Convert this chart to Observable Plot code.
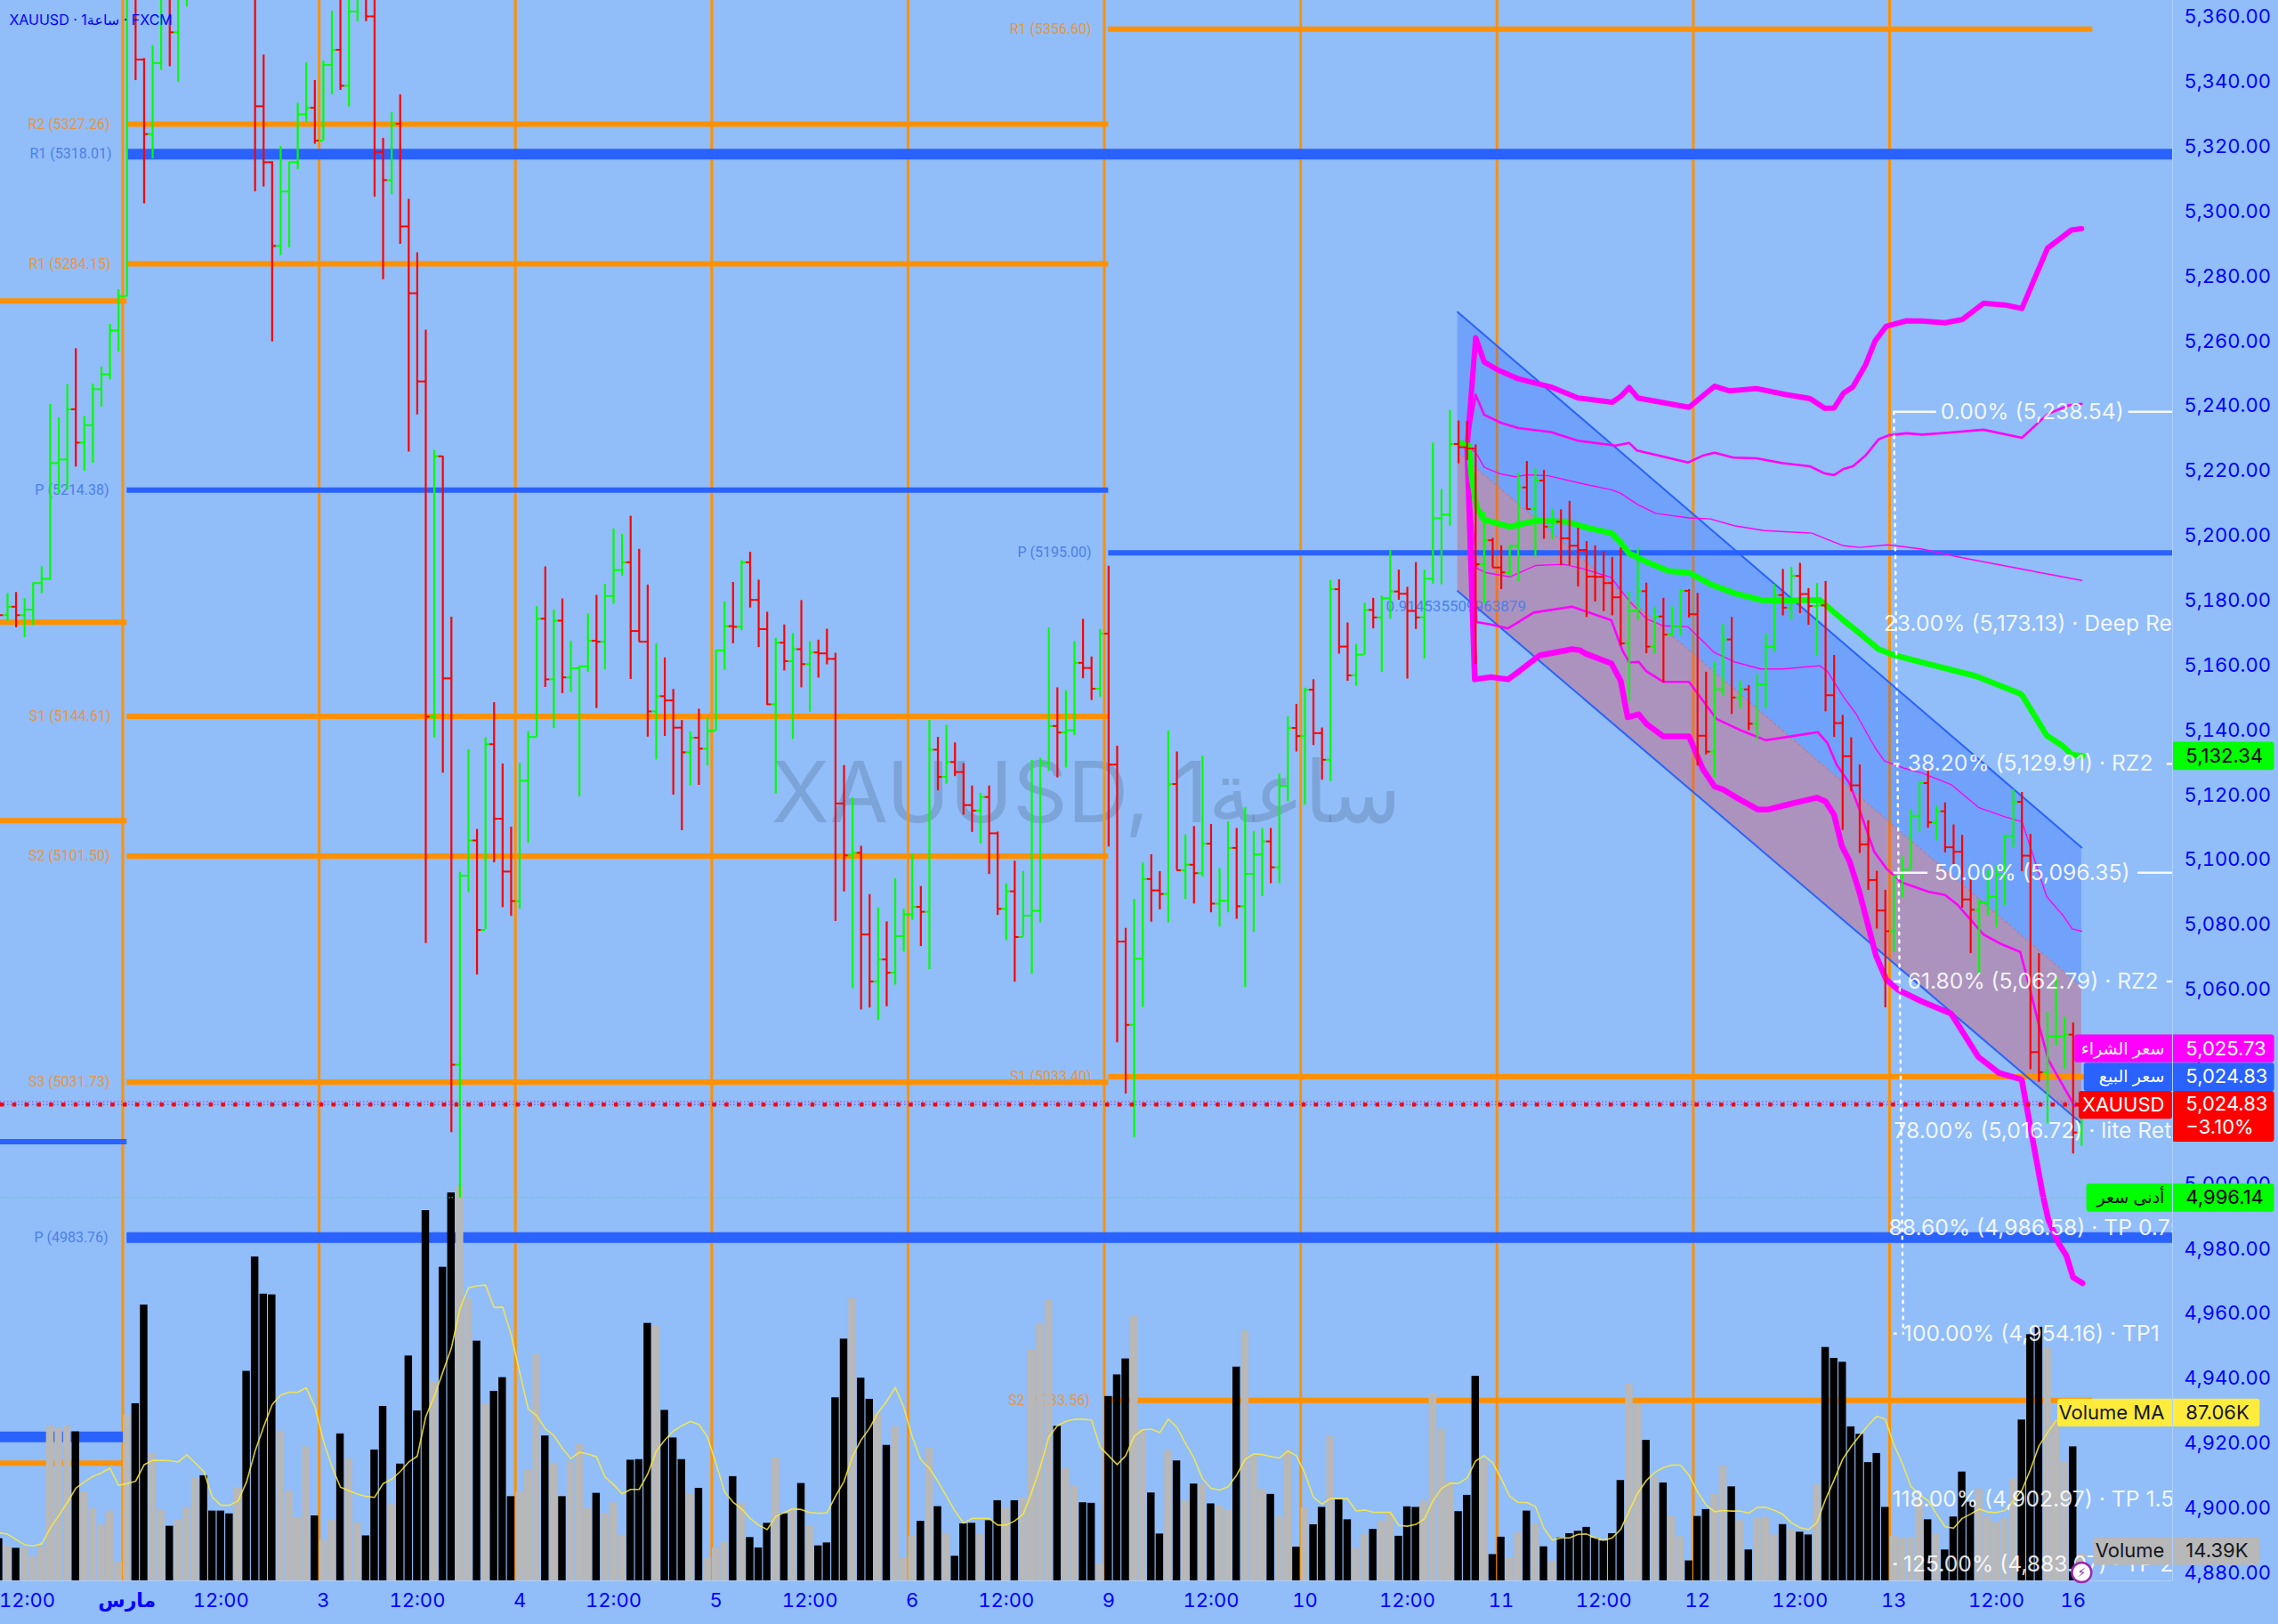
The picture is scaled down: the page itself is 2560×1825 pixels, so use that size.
<!DOCTYPE html>
<html lang="ar"><head><meta charset="utf-8">
<script src="https://cdn.jsdelivr.net/npm/d3@7"></script>
<script src="https://cdn.jsdelivr.net/npm/@observablehq/plot@0.6"></script>
<style>html,body{margin:0;padding:0;background:#91bdf9;overflow:hidden}svg{display:block}</style>
</head><body><div id="chart"></div>
<script>
const opens=[5178,5175.8,5178.4,5175.8,5177.5,5185.7,5187,5222.7,5223.8,5239.3,
5229,5234.4,5245.5,5250.1,5263.6,5274.2,5372,5347.2,5324.2,5346.1,
5368,5355.6,5375,5390,5405,5395,5385,5380,5375,5388,
5375,5332.8,5315.5,5289.7,5306.5,5315.5,5330.3,5332.3,5322.2,5345.5,
5350.2,5339.1,5362,5372,5360.5,5318.7,5310,5327.4,5295.7,5275.1,
5247.9,5144.5,5224.8,5156.3,5037.1,5095.4,5106.3,5078.7,5136,5113,
5096.7,5087.6,5124.7,5138.2,5174.7,5156,5174.1,5156.6,5159.4,5160,
5167.9,5167.6,5181.7,5189.7,5192.1,5170.9,5167.6,5146.1,5150.8,5149.5,
5141.1,5133.5,5138,5134.6,5140.1,5164.9,5172.4,5172.2,5192.1,5180.5,
5171.5,5148.3,5167.3,5161.6,5165.3,5160.7,5164.3,5164,5162.3,5117.7,
5101.7,5102.5,5077.3,5062.8,5069.6,5065.5,5076.8,5083.5,5085.8,5084.3,
5134.3,5125.9,5130.5,5127.4,5117.2,5115.5,5119.7,5108.5,5085.2,5090.6,
5076.5,5083.1,5084.6,5130.1,5141.6,5139.6,5140.3,5161.1,5159.5,5153.1,
5170.1,5129.7,5075.1,5049.4,5069.8,5094.4,5090.9,5089.8,5123.7,5097.1,
5098.8,5096.2,5105.3,5086.8,5087.7,5104,5086,5096,5102,5106,
5098,5123.1,5141,5138.5,5152.8,5139.4,5131.2,5183.8,5166.1,5157.2,
5163.6,5177.4,5175.1,5181,5183.1,5182.4,5177.1,5175.1,5187,5205.7,
5206.8,5228.6,5227.6,5227.2,5191.5,5198.9,5190.5,5189,5197.2,5215.2,
5208.5,5217.3,5203.1,5204.6,5199.5,5197.2,5195.9,5187.7,5187.6,5185.7,
5181.3,5167.1,5177.1,5183.2,5166.1,5175.4,5169.8,5172.4,5183.3,5176.1,
5138.6,5133.7,5152.9,5168.3,5150.4,5152.9,5142.3,5154.4,5166.1,5182,
5178.1,5187.9,5182.3,5178.6,5178.8,5151.1,5142.5,5132.3,5123.3,5105.1,
5094.1,5084.7,5078.3,5095,5097.3,5113.9,5124,5111.9,5115.3,5104.2,
5102.8,5088.1,5084.9,5087.1,5089,5096,5107.7,5118.2,5101.6,5041,
5034.8,5045.9,5045.9,5046.4,5016.2];
const highs=[5183,5182.5,5182.8,5180.9,5185.7,5190.7,5240.8,5236.7,5246.9,5258,
5237.1,5247.1,5252.3,5265.5,5276.2,5385,5390,5347.5,5351.5,5375,
5372,5385,5395,5410,5412,5400,5392,5385,5392,5395,
5385,5348.6,5315.7,5320.4,5315.5,5333.7,5346.1,5340.7,5346.7,5362.1,
5370,5375,5378,5380,5372,5322.9,5330.9,5336.3,5304.1,5287.6,
5263.7,5226.5,5224.8,5175.2,5096.5,5134.3,5109.7,5138,5148.8,5129.9,
5110.4,5130.1,5139.9,5178.4,5190.7,5177.4,5180.8,5167.8,5160,5176.2,
5181.9,5185.3,5202.4,5200.7,5206.3,5196.1,5185.1,5167,5162.6,5152.9,
5143.3,5139.8,5146.8,5144.1,5164.9,5179.9,5185.9,5192.6,5195.2,5186.6,
5176.7,5168.6,5172.8,5170.1,5180.3,5167.6,5168.1,5171.5,5164.1,5129.4,
5119.5,5104.5,5089.6,5085.5,5081.2,5094.5,5085.1,5101.9,5092.1,5143.3,
5138.1,5141.8,5136.4,5130,5123.1,5120.8,5123.1,5108.9,5092.9,5099.9,
5096.7,5131,5131.7,5171.9,5153.4,5152.5,5167.7,5174.5,5162.9,5171.4,
5190.9,5135.4,5079.2,5088.1,5099.3,5101.9,5096.7,5140.1,5133.6,5108,
5110.6,5132.3,5111.2,5097.6,5112.1,5110,5116.5,5109,5110,5110,
5126.8,5144.4,5148.3,5153.3,5155.9,5141,5186.5,5186.7,5173.4,5166.8,
5179.5,5181,5181.7,5195.7,5189.7,5184.4,5192,5189.7,5228.9,5214.6,
5238.9,5235.7,5235.6,5228.3,5207.5,5199.5,5197.2,5197.2,5219.6,5223.2,
5220.9,5220.5,5208.5,5208.3,5210.9,5202.6,5198.5,5197.2,5195.4,5193.6,
5196.5,5183,5196.4,5185.7,5178.3,5181,5178.4,5183.7,5183.7,5182.5,
5158.2,5161.4,5172.9,5175.1,5155.5,5154.1,5157.5,5170,5185.2,5189.9,
5190.5,5191.8,5184,5185.6,5186.2,5163.4,5144.9,5138,5129.6,5112.4,
5096.8,5090.9,5095.5,5101.2,5115.6,5124,5128.4,5116.7,5117.9,5111.1,
5107.9,5094.2,5088.1,5097.2,5098.4,5107.9,5121.9,5121.1,5108.2,5071.4,
5053.3,5064.1,5051.8,5050,5025];
const lows=[5172,5173.9,5171.9,5168.9,5172.7,5182.5,5186.6,5213.2,5214.5,5221.5,
5220.2,5222.7,5240,5248.4,5257,5274,5340.7,5302.7,5316.6,5343.9,
5345,5340.2,5363.4,5385,5390,5380,5376,5372,5372,5370,
5306.4,5307.9,5260.1,5286.7,5289.1,5313.3,5327.7,5321.1,5322.2,5336.4,
5337.7,5332.6,5358.9,5358.9,5304.8,5279.3,5305.5,5290.2,5226.1,5237.6,
5074.5,5138,5127.1,5016.2,4996.1,5090.2,5064.8,5078.9,5099.4,5085.6,
5082.9,5085.1,5105.5,5138.2,5153.5,5140.8,5151.6,5152,5119.8,5158.2,
5147,5159,5179.2,5187.8,5156,5167.6,5138.2,5131.2,5138.4,5120.3,
5109.3,5123.2,5123.3,5129.3,5140.1,5158.8,5167,5171,5178,5165.8,
5148,5120.7,5158.6,5137.5,5153.4,5145.9,5156.4,5160.5,5081.3,5090.4,
5060.6,5054,5054.6,5050.8,5055,5061.7,5071.9,5081.7,5073.6,5066.5,
5121.6,5123.7,5126,5114.1,5108.8,5105.3,5095.8,5083.2,5075.4,5062.6,
5076.5,5065,5080.9,5127.6,5125.6,5128.7,5138.7,5156.2,5149.5,5150.5,
5104.3,5043.9,5028.1,5014.7,5054.8,5081.1,5084.9,5080.9,5097.1,5088.1,
5086.7,5095,5084,5079.6,5084,5082,5061,5078,5089,5093,
5093,5118.3,5133.6,5117.2,5135.6,5124.9,5124.5,5163.8,5155.4,5153.9,
5163.5,5171.6,5158.2,5174.6,5180.4,5156.1,5171.4,5162.3,5185.4,5185.2,
5203.3,5222.5,5223.5,5160.6,5179.3,5190.5,5183.7,5187.6,5186.2,5208.3,
5193.8,5199.2,5199.2,5191.1,5191.1,5184.5,5175.1,5179.9,5176.9,5175.6,
5166.3,5149.2,5174.2,5163.9,5163.7,5154.9,5169.3,5169.3,5174.9,5129.3,
5132.7,5125.8,5150.9,5145.2,5146.9,5140.2,5137.1,5146.9,5164.4,5175.6,
5174.2,5176.3,5172.7,5163.4,5146,5138.1,5109.4,5121.3,5102.3,5090.9,
5079,5054.7,5071.9,5088.6,5097.3,5108.7,5110.1,5106.2,5102.5,5098.8,
5085.4,5071.4,5065,5083.2,5079.5,5086.1,5104,5096.7,5035.6,5031.7,
5018.9,5042.9,5035.8,5009.6,5012];
const closes=[5175.8,5178.4,5175.8,5177.5,5185.7,5187,5222.7,5223.8,5239.3,5229,
5234.4,5245.5,5250.1,5263.6,5274.2,5372,5347.2,5324.2,5346.1,5368,
5355.6,5375,5390,5405,5395,5385,5380,5375,5388,5375,
5332.8,5315.5,5289.7,5306.5,5315.5,5330.3,5332.3,5322.2,5345.5,5350.2,
5339.1,5362,5372,5360.5,5318.7,5310,5327.4,5295.7,5275.1,5247.9,
5144.5,5224.8,5156.3,5037.1,5095.4,5106.3,5078.7,5136,5113,5096.7,
5087.6,5124.7,5138.2,5174.7,5156,5174.1,5156.6,5159.4,5160,5167.9,
5167.6,5181.7,5189.7,5192.1,5170.9,5167.6,5146.1,5150.8,5149.5,5141.1,
5133.5,5138,5134.6,5140.1,5164.9,5172.4,5172.2,5192.1,5180.5,5171.5,
5148.3,5167.3,5161.6,5165.3,5160.7,5164.3,5164,5162.3,5117.7,5101.7,
5102.5,5077.3,5062.8,5069.6,5065.5,5076.8,5083.5,5085.8,5084.3,5134.3,
5125.9,5130.5,5127.4,5117.2,5115.5,5119.7,5108.5,5085.2,5090.6,5076.5,
5083.1,5084.6,5130.1,5141.6,5139.6,5140.3,5161.1,5159.5,5153.1,5170.1,
5129.7,5075.1,5049.4,5069.8,5094.4,5090.9,5089.8,5123.7,5097.1,5098.8,
5096.2,5105.3,5086.8,5087.7,5104,5086,5096,5102,5106,5098,
5123.1,5141,5138.5,5152.8,5139.4,5131.2,5183.8,5166.1,5157.2,5163.6,
5177.4,5175.1,5181,5183.1,5182.4,5177.1,5175.1,5187,5205.7,5206.8,
5228.6,5227.6,5227.2,5191.5,5198.9,5190.5,5189,5197.2,5215.2,5208.5,
5217.3,5203.1,5204.6,5199.5,5197.2,5195.9,5187.7,5187.6,5185.7,5181.3,
5167.1,5177.1,5183.2,5166.1,5175.4,5169.8,5172.4,5183.3,5176.1,5138.6,
5133.7,5152.9,5168.3,5150.4,5152.9,5142.3,5154.4,5166.1,5182,5178.1,
5187.9,5182.3,5178.6,5178.8,5151.1,5142.5,5132.3,5123.3,5105.1,5094.1,
5084.7,5078.3,5095,5097.3,5113.9,5124,5111.9,5115.3,5104.2,5102.8,
5088.1,5084.9,5087.1,5089,5096,5107.7,5118.2,5101.6,5041,5034.8,
5045.9,5045.9,5046.4,5016.2,5024.83];
const volumes=[22.8,19.1,17.6,18.2,13.2,18.6,83.5,82.2,83.7,80.5,
47.9,39,30.2,37.7,10.2,89.6,95.7,149,69,38,
29.5,33,39.7,55.3,56.8,37.7,37.7,36.2,50.3,113.2,
175,154.9,154.5,80.9,48.6,34.3,72.4,35.1,21.9,32.7,
79.4,65.9,31.4,24.3,70.7,94.2,41.2,63.1,121.5,91.8,
200,107.6,169.4,209.6,213,152.3,129.5,95.7,102.4,109.8,
45.5,47.9,59.6,122.4,78.3,63.6,45.5,64.6,73.8,39,
47.3,36.3,42.2,24.7,65.2,65.5,139.1,137.5,92.1,77.2,
65.5,47,50,12.5,17.9,20.7,56.3,42,23.4,17.8,
31.1,66.5,36.2,38.5,52.6,29.8,18.9,20.5,98.9,130.6,
152.6,109.5,98.1,90.5,73.2,83.3,12.5,24,32.2,71.8,
40.1,25.6,13.3,30.8,31.1,25,32.5,43.3,39.3,43.3,
44.9,124.8,139.1,151.8,83.5,60.6,51,42.2,41.9,9.4,
99.6,111.3,119.9,142.7,82,47.5,25.3,70.3,64.8,43.1,
52.3,52.3,41.6,40.4,38.5,115.5,135,67.6,49.6,46.7,
34.7,70.3,18.2,39.5,30.3,39.7,78.2,43.7,33,17.4,
24.9,27.8,32.4,36.6,24.1,40,39.7,43.1,101.1,82,
53.3,37.4,46.2,110.5,65.3,14.2,23.6,12.5,25.9,37.7,
30.7,18.4,10.7,23.2,25.5,26.8,28.9,23,21.5,25.5,
54.2,106.3,95.4,75.9,56.1,52.9,34.9,23.9,10.8,34.8,
38.5,47,62.2,50.8,32.5,16.7,33.7,34.3,24.8,30.4,
28,26.3,24.8,51.8,126.1,120.2,118.1,83.2,79.2,63.9,
68.8,39.7,24,22.9,23.6,43.6,33,25.5,16.7,34.5,
58.8,42.5,49.7,34.5,31.6,33.5,55.1,86.9,133,136.9,
126.1,85.7,64.1,72.4,14.39];
const volumeMA=[26,25.2,22.3,19.5,18.9,20,28.4,35.3,42.3,50.1,
53.4,56.4,58.3,60.9,51.6,52.5,53.8,62.7,65.1,65.1,
64.9,64.2,68.1,63.6,59,45.1,40.8,40.8,43.2,53.4,
70.1,83.2,95.2,100.4,101.9,101.9,104.3,94.2,75.7,61.7,
50.6,48.7,46.9,45.6,45.1,52.5,54.9,59,64.2,67.3,
88.7,99.8,112.8,125.8,147.1,158.3,159.4,159.8,147.7,147.9,
133,112.6,92.9,89.2,82.2,78.5,71.6,66,69.5,68.5,
67,56.1,52,47,49.4,49.4,57.7,70,76.1,80.9,
83.8,86.2,84.5,77.7,63.3,48.1,42.5,38.9,33.7,30.1,
27.7,34.8,36.9,38.9,38.5,36.9,36.5,36.7,45.7,53.7,
67.3,76.1,82.5,91,97,104.5,93.8,77.7,65.4,60.9,
53.7,45.7,37.7,31.2,33.7,33.7,33.7,30.1,30.1,32.4,
36,48.1,61.7,77.7,83.8,86.2,87.3,87.3,86.9,72.3,
67.6,62.8,67.6,78.2,81.6,82,80.1,87.4,83,74.3,
66.3,55.2,50,49,50.8,57.1,65.7,68.6,68.2,67.2,
66.3,70.1,67.6,58,45.2,41.4,44.6,44.6,44.3,37.7,
38.3,37,37,37,29.9,29.5,30.5,33.5,43.3,49.8,
52.7,52.7,55.6,64.8,67.6,63.8,55.2,45.6,42.3,42.3,
40.2,28.4,22,23.2,23.2,25.1,25.3,23.2,22,23.2,
27.8,37.9,47.5,54.2,58.6,61.2,62.6,62.5,57,48.1,
40.9,37.3,38,37.7,37.7,36.5,39.7,39.7,38.1,35.9,
31.3,28.7,27.6,31.6,44.1,54.5,65.7,72.6,78.5,84.1,
88.9,87.3,73.7,63.3,51,46.5,43.3,36.1,29.2,28.5,
33.7,36.1,38.8,37.2,36.9,38,43.3,48.9,60.1,72.9,
80.1,86.5,87,87,87.06];

const bandOuterUp=[[172,5227.6],[173,5261.4],[174,5253.9],[175.5,5251.6],[178,5248.7],[181.8,5246.2],[185,5242.8],[189,5241.5],[190,5243.3],[191,5246],[192,5242.8],[198,5239.9],[200,5244.3],[201,5246.4],[202.7,5245],[205.9,5245.7],[209.4,5243.8],[212.2,5242.6],[213.9,5239.6],[215,5239.7],[216.1,5244.3],[217.2,5246.2],[218.7,5253.1],[219.8,5260.4],[221.1,5264.9],[223.5,5266.6],[225.3,5266.5],[228,5266],[230,5267],[232.5,5272],[235,5271.5],[237,5270.4],[240,5289],[242.8,5294.6],[244,5295]];
const bandMidUp=[[172,5227.6],[173,5243.8],[174,5237.6],[176,5235.1],[178,5233.5],[181.8,5232.3],[185,5229.6],[189.4,5228.1],[191,5228.9],[191.9,5226.6],[197.9,5222.9],[199.7,5225.1],[201,5225.9],[203.2,5224.4],[205.9,5224.2],[209,5222.7],[212.2,5221.7],[213.9,5219.5],[215,5219],[216.1,5220.9],[217.2,5221.7],[218.7,5225.1],[220.2,5230],[221.4,5231.3],[223.5,5231.9],[225.3,5231.5],[228,5232],[232.5,5233],[237,5230.5],[240,5237.8],[242.5,5240.5],[244,5241]];
const bandInnerUp=[[172,5227.6],[173,5226.1],[174,5221.4],[176,5219.3],[177.7,5218.5],[179,5219.1],[181.5,5218.8],[185.6,5216.3],[189,5214.4],[190,5213.4],[192,5209.9],[194.1,5207.2],[198,5205.8],[200.5,5205.5],[203.3,5203.4],[206.8,5201.9],[212.4,5201.1],[214.2,5199.2],[216.1,5197.2],[218,5196.7],[221.3,5197.5],[225.3,5196.2],[230,5193.5],[237,5190],[240,5188.5],[244,5186.5]];
const vwapLine=[[171.2,5228.9],[172.2,5228.1],[172.5,5218.8],[173.1,5209],[174,5205.2],[177,5203.1],[180,5204.9],[183.7,5204.6],[186.3,5202.6],[188.9,5201.1],[190,5198.2],[191,5194.8],[193,5192.3],[195.6,5189.4],[198,5188.9],[200.8,5185],[203.4,5182.5],[206.4,5180.5],[209.2,5180.3],[213.3,5180.5],[216.1,5174.2],[218,5170.2],[220.2,5165.3],[222.1,5163.4],[225.3,5161.2],[231.6,5157],[236.8,5151.6],[237.1,5150.8],[239.9,5138.7],[241.7,5135.6],[242.9,5132.7],[244.1,5132.34]];
const bandInnerDn=[[172,5227.6],[173.1,5190.3],[174.2,5188.9],[177,5187.6],[180,5191.1],[183.3,5191.5],[185.6,5190.1],[188.9,5187.4],[190,5183.5],[191.2,5179.6],[193,5174.7],[195,5172.5],[197.9,5172.2],[199.4,5168.3],[200.9,5164.4],[203.3,5161.4],[206.4,5159.2],[209,5159.2],[213.3,5160.2],[214.2,5158.5],[216.1,5150.6],[217.6,5145.2],[219.8,5134.9],[220.9,5130.8],[223.2,5128.6],[225.3,5127.1],[228.8,5123.4],[231.9,5116.5],[235,5113.6],[237,5112.1],[238,5104.2],[239.9,5089],[241.8,5083.2],[242.9,5079],[244,5078.3]];
const bandMidDn=[[172,5227.6],[173.1,5173.7],[174.8,5172.9],[176.8,5171.7],[179.8,5176.6],[184.3,5178.4],[188.9,5174.2],[190.2,5164.9],[191,5161.2],[192.1,5161.4],[193,5158.5],[195,5155.2],[198,5155.2],[199.7,5149.2],[201.2,5143.8],[204.2,5140.1],[207,5137.2],[213.1,5139.7],[214.2,5136.4],[215.3,5129.6],[216.8,5123.9],[218,5115.6],[219.7,5102.8],[221.2,5097.4],[222.9,5093.4],[226,5090.5],[228,5089.5],[229.4,5086.6],[232.5,5077.3],[234.6,5074.3],[236.8,5071.9],[237.7,5063.1],[238.9,5050.3],[240.1,5038.6],[241.7,5031.2],[243.2,5024.3]];
const bandOuterDn=[[172,5228.6],[172.9,5156],[174.8,5156.7],[176.8,5156],[178.1,5158.5],[180.5,5163.4],[184.3,5165.3],[185.2,5165],[185.9,5163.9],[188.9,5160.9],[190,5155.5],[190.8,5144.3],[192.1,5145.2],[193,5142.3],[195,5138.4],[198,5138.4],[199.6,5128.4],[201,5122.9],[202,5122],[203.7,5119.3],[206.1,5115.8],[207.2,5115.8],[209.6,5117.4],[213,5119.5],[214,5118.3],[215,5114.2],[215.9,5104.6],[216.8,5100],[218,5090],[219,5079.9],[219.9,5070.8],[221.1,5063.4],[222.5,5060.2],[225.3,5056.6],[228.7,5052.9],[231.9,5039.5],[234.3,5034.6],[236.8,5032.7],[237,5032.2],[239.4,4997.6],[240.1,4989.3],[241.3,4982],[242.2,4978.3],[243,4971.5],[244.1,4969.7]];

const channelBars=[170.9,244];
const channelTop=[5269.3,5104.1];
const channelMid=[5226.1,5061.1];
const channelBottom=[5183.2,5019];

const dayLineBars=[14.5,37.5,60.5,83.5,106.5,129.5,152.5,175.5,198.5,221.5];
const tickBars=[3.3,26,38,49,61,72,84,95,107,118,130,142,153,165,176,188,199,211,222,234,243];
const tickLabels=["12:00","12:00","3","12:00","4","12:00","5","12:00","6","12:00","9","12:00","10","12:00","11","12:00","12","12:00","13","12:00","16"];
const priceTicks=d3.range(4880,5361,20);

const pivotSegments=[
 {p:5272.7,a:0,b:15,c:"o",w:6},{p:5173.6,a:0,b:15,c:"o",w:6},{p:5112.4,a:0,b:15,c:"o",w:6},{p:4914.2,a:0,b:15,c:"o",w:6},
 {p:5013.4,a:0,b:15,c:"b",w:6},{p:4922.3,a:0,b:15,c:"b",w:12},
 {p:5327.26,a:15,b:130,c:"o",w:6},{p:5284.15,a:15,b:130,c:"o",w:6},{p:5144.61,a:15,b:130,c:"o",w:6},{p:5101.5,a:15,b:130,c:"o",w:6},{p:5031.73,a:15,b:130,c:"o",w:6},
 {p:5214.38,a:15,b:130,c:"b",w:6},{p:5318.01,a:15,b:255,c:"b",w:12},{p:4983.76,a:15,b:255,c:"b",w:12},
 {p:5356.6,a:130,b:245.3,c:"o",w:6},{p:5033.4,a:130,b:245,c:"o",w:6},{p:4933.56,a:130,b:245.3,c:"o",w:6},{p:5195,a:130,b:255,c:"b",w:6}];
const pivotLabels=[
 {t:"R2 (5327.26)",p:5327.26,x:13,c:"o"},{t:"R1 (5318.01)",p:5318.01,x:13.2,c:"b"},{t:"R1 (5284.15)",p:5284.15,x:13.1,c:"o"},
 {t:"P (5214.38)",p:5214.38,x:12.9,c:"b"},{t:"S1 (5144.61)",p:5144.61,x:13.1,c:"o"},{t:"S2 (5101.50)",p:5101.5,x:13,c:"o"},
 {t:"S3 (5031.73)",p:5031.73,x:13,c:"o"},{t:"P (4983.76)",p:4983.76,x:12.8,c:"b"},
 {t:"R1 (5356.60)",p:5356.6,x:128,c:"o"},{t:"P (5195.00)",p:5195,x:128,c:"b"},{t:"S1 (5033.40)",p:5033.4,x:128,c:"o"},{t:"S2 (4933.56)",p:4933.56,x:127.8,c:"o"}];
const fibLabels=[
 {t:"0.00% (5,238.54)",p:5238.54,x:238.2,a:"middle"},
 {t:"23.00% (5,173.13) · Deep Retracement",p:5173.13,x:220.8,a:"start"},
 {t:"38.20% (5,129.91) · RZ2",p:5129.91,x:223.6,a:"start"},
 {t:"50.00% (5,096.35)",p:5096.35,x:238.2,a:"middle"},
 {t:"61.80% (5,062.79) · RZ2",p:5062.79,x:223.6,a:"start"},
 {t:"78.00% (5,016.72) · lite Retracement",p:5016.72,x:222,a:"start"},
 {t:"88.60% (4,986.58) · TP 0.75",p:4986.58,x:221.4,a:"start"},
 {t:"100.00% (4,954.16) · TP1",p:4954.16,x:223.1,a:"start"},
 {t:"118.00% (4,902.97) · TP 1.5",p:4902.97,x:221.8,a:"start"},
 {t:"125.00% (4,883.07) · TP 2",p:4883.07,x:223.1,a:"start"}];
const fibTicks=[
 {p:5238.54,a:222,b:227},{p:5238.54,a:249.5,b:254.65},{p:5129.91,a:222,b:222.7},{p:5129.91,a:254,b:254.65},
 {p:5096.35,a:222,b:226},{p:5096.35,a:250.6,b:254.65},{p:5062.79,a:222,b:222.7},{p:5062.79,a:254,b:254.65},
 {p:4954.16,a:222,b:222.4},{p:4883.07,a:222,b:222.4}];
const fibRetrace=[[222,5238.54],[223.1,4954.16]];

const priceBoxes=[
 {a:254.65,b:266.6,hi:5136.6,lo:5127.9,f:"#00ff00"},
 {a:243.2,b:266.6,hi:5046.3,lo:5037.7,f:"#ff00ff"},
 {a:244.3,b:266.6,hi:5037.6,lo:5028.9,f:"#2962ff"},
 {a:243.7,b:254.65,hi:5028.9,lo:5020.3,f:"#ff0000"},
 {a:254.65,b:266.6,hi:5028.9,lo:5013.2,f:"#ff0000"},
 {a:244.6,b:266.6,hi:5000.3,lo:4991.6,f:"#00ff00"},
 {a:241.2,b:264.9,hi:4934,lo:4925.4,f:"#ffeb3b"},
 {a:245.4,b:264.9,hi:4891.2,lo:4882.7,f:"#b8b8b8"}];
const boxNames=[
 {t:"سعر الشراء",p:5042,f:"#fff",s:19},{t:"سعر البيع",p:5033.3,f:"#fff",s:19},{t:"XAUUSD",p:5024.6,f:"#fff",s:22},
 {t:"أدنى سعر",p:4996,f:"#000",s:19},{t:"Volume MA",p:4929.7,f:"#131722",s:22},{t:"Volume",p:4887,f:"#131722",s:22}];
const boxValues=[
 {t:"5,132.34",p:5132.2,f:"#000"},{t:"5,025.73",p:5042,f:"#fff"},{t:"5,024.83",p:5033.3,f:"#fff"},
 {t:"5,024.83",p:5025,f:"#fff"},{t:"−3.10%",p:5017.8,f:"#fff"},{t:"4,996.14",p:4996,f:"#000"},
 {t:"87.06K",p:4929.7,f:"#131722"},{t:"14.39K",p:4887,f:"#131722"}];

const rows=closes.map((c,i)=>({i,o:opens[i],h:highs[i],l:lows[i],c,v:volumes[i],ma:volumeMA[i],up:c>=opens[i]}));
const volBase=4877.9, volUnit=0.571, volY=v=>volBase+v*volUnit;
const ORANGE="#ff9100", BLUE="#2962ff", barColor=d=>d.up?"#00ff00":"#ff0000";
const font="Inter, Roboto, 'DejaVu Sans', sans-serif";
const bands=[[bandOuterUp,"#ff00ff",6],[bandMidUp,"#ff00ff",2.6],[bandInnerUp,"#ff00ff",1.4],[bandInnerDn,"#ff00ff",1.4],[bandMidDn,"#ff00ff",2.6],[bandOuterDn,"#ff00ff",6.5],[vwapLine,"#00ff00",6.5]];

const chart=Plot.plot({
 width:2560,height:1825,marginTop:0,marginLeft:0,marginRight:119,marginBottom:49,
 style:{background:"#91bdf9",fontFamily:font,overflow:"hidden"},
 x:{type:"linear",domain:[0.1668,254.65],axis:null},
 y:{type:"linear",domain:[volBase,5365.42],axis:null},
 color:{type:"identity"},
 marks:[
  Plot.text([{t:"XAUUSD, 1ساعة"}],{x:()=>127.4,y:()=>5120.3,text:"t",fontSize:95.5,fill:"#4a5f80",fillOpacity:.27,fontFamily:font}),
  Plot.ruleX(dayLineBars,{x:d=>d,stroke:ORANGE,strokeWidth:3,clip:true}),
  Plot.areaY(channelBars,{x:d=>d,y1:(d,i)=>channelTop[i],y2:(d,i)=>channelMid[i],fill:"#2962ff",fillOpacity:.3}),
  Plot.areaY(channelBars,{x:d=>d,y1:(d,i)=>channelMid[i],y2:(d,i)=>channelBottom[i],fill:"#d25463",fillOpacity:.4}),
  Plot.ruleY(pivotSegments,{y:"p",x1:"a",x2:"b",stroke:d=>d.c=="o"?ORANGE:BLUE,strokeWidth:"w",clip:true}),
  Plot.text(pivotLabels,{x:"x",y:"p",text:"t",textAnchor:"end",fontSize:16,fontFamily:"Roboto",fill:d=>d.c=="o"?"#e8963c":"#4d7fe8"}),
  Plot.rectY(rows,{x1:d=>d.i-.44,x2:d=>d.i+.44,y1:volBase,y2:d=>volY(d.v),fill:d=>d.up?"#b8b8b8":"#000000"}),
  Plot.line(rows,{x:"i",y:d=>volY(d.ma),stroke:"#ffeb3b",strokeWidth:1.6,strokeOpacity:.85}),
  Plot.text([{t:"0.914535509963879"}],{x:()=>162.5,y:()=>5178.5,text:"t",textAnchor:"start",fontSize:17,fontFamily:"Roboto",fill:"#4d7fe8"}),
  Plot.line(channelBars,{x:d=>d,y:(d,i)=>channelTop[i],stroke:BLUE,strokeWidth:2}),
  Plot.line(channelBars,{x:d=>d,y:(d,i)=>channelBottom[i],stroke:BLUE,strokeWidth:2}),
  Plot.line(channelBars,{x:d=>d,y:(d,i)=>channelMid[i],stroke:"#d9605f",strokeWidth:1,strokeDasharray:"3 3",strokeOpacity:.8}),
  ...bands.map(([b,c,w])=>Plot.line(b,{x:d=>d[0],y:d=>d[1],stroke:c,strokeWidth:w,strokeLinejoin:"round",strokeLinecap:"round"})),
  Plot.ruleX(rows,{x:"i",y1:"l",y2:"h",stroke:barColor,strokeWidth:2.2}),
  Plot.ruleY(rows,{y:"o",x1:d=>d.i-.5,x2:"i",stroke:barColor,strokeWidth:2}),
  Plot.ruleY(rows,{y:"c",x1:"i",x2:d=>d.i+.5,stroke:barColor,strokeWidth:2}),
  Plot.ruleY([5025.73],{stroke:"#ff00ff",strokeWidth:1,strokeDasharray:"1.5 2.5",clip:true}),
  Plot.ruleY([5024.83],{stroke:"#2962ff",strokeWidth:1,strokeDasharray:"1.5 2.5",clip:true}),
  Plot.ruleY([5024.83],{stroke:"#ff0000",strokeWidth:4.5,strokeDasharray:"4.5 9.3",clip:true}),
  Plot.ruleY([4996.14],{stroke:"#4fd98a",strokeWidth:1,strokeDasharray:"1.5 2",clip:true}),
  Plot.line(fibRetrace,{x:d=>d[0],y:d=>d[1],stroke:"#fff",strokeWidth:2.5,strokeDasharray:"2.5 6.5"}),
  Plot.ruleY(fibTicks,{y:"p",x1:"a",x2:"b",stroke:"#fff",strokeWidth:2.5,strokeOpacity:.9}),
  Plot.text(fibLabels,{x:"x",y:"p",text:"t",textAnchor:"start",fill:"#fff",fillOpacity:.9,fontSize:24.7,fontFamily:font,clip:true,filter:d=>d.a=="start"}),
  Plot.text(fibLabels,{x:"x",y:"p",text:"t",textAnchor:"middle",fill:"#fff",fillOpacity:.9,fontSize:24.7,fontFamily:font,clip:true,filter:d=>d.a=="middle"}),
  Plot.axisY(priceTicks,{anchor:"right",tickSize:0,tickPadding:13,dy:-1,tickFormat:d3.format(",.2f"),color:"#0000ff",fontSize:22,label:null,fontFamily:font}),
  Plot.axisX(tickBars,{anchor:"bottom",tickSize:0,tickPadding:14,tickFormat:d=>tickLabels[tickBars.indexOf(d)],color:"#0000ff",fontSize:22,label:null,fontFamily:font}),
  Plot.axisX([15],{anchor:"bottom",tickSize:0,tickPadding:14,tickFormat:()=>"مارس",color:"#0000ff",fontSize:22,fontWeight:"bold",label:null,fontFamily:font}),
  Plot.text([{t:"XAUUSD · 1ساعة · FXCM"}],{x:()=>1.2,y:()=>5359.4,text:"t",textAnchor:"start",fontSize:16,fill:"#0000ff",fontFamily:font}),
  Plot.rect(priceBoxes,{x1:"a",x2:"b",y1:"lo",y2:"hi",fill:"f",rx:3}),
  Plot.text(boxNames,{x:()=>253.7,y:"p",text:"t",textAnchor:"end",fill:"f",fontSize:"s",fontFamily:font}),
  Plot.text(boxValues,{x:()=>256.2,y:"p",text:"t",textAnchor:"start",fill:"f",fontSize:22,fontFamily:font}),
  Plot.ruleX([254.65],{stroke:"#aed0fb",strokeWidth:1,y1:4877.9,y2:5365.42}),
  Plot.ruleY([volBase],{stroke:"#aed0fb",strokeWidth:1}),
  Plot.dot([[244,4880.5]],{x:d=>d[0],y:d=>d[1],r:11,fill:"#fff",stroke:"#9c27b0",strokeWidth:2.5}),
  Plot.text([{t:"⚡"}],{x:()=>244,y:()=>4880.5,text:"t",fontSize:14,fill:"#9c27b0",fontFamily:"'DejaVu Sans'"})
 ]
});
document.getElementById("chart").append(chart);
</script></body></html>
